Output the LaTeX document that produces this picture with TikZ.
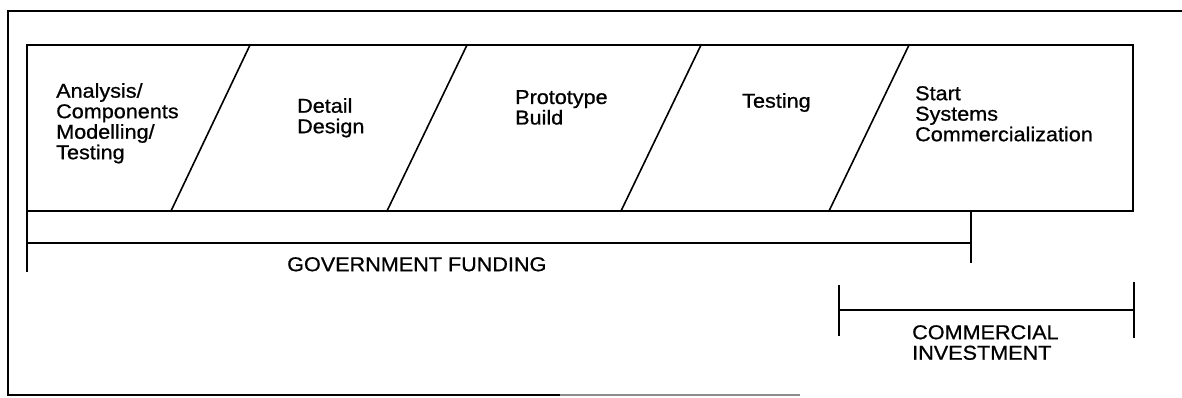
\documentclass[tikz,border=0pt]{standalone}
\usepackage{fontspec}
\setmainfont{Liberation Sans}[FakeStretch=1.08,FakeBold=0.8]
\begin{document}
\begin{tikzpicture}[x=1pt,y=-1pt,
  rule/.style={line width=1.6pt,line cap=rect},
  framerule/.style={line width=1.3pt},
  phase/.style={anchor=north west,inner sep=0pt,align=left,
    font=\fontsize{20}{20.5}\selectfont},
  caption/.style={anchor=north west,inner sep=0pt,align=left,
    font=\fontsize{20}{20.5}\selectfont}]
\useasboundingbox (0,0) rectangle (1182,397);

% outer frame (open on the right)
\coordinate (fTR) at (1182,11);
\coordinate (fTL) at (8,11);
\coordinate (fBL) at (8,395);
\coordinate (fBM) at (560,395);
\coordinate (fBR) at (800,395);
\draw[framerule] (fTR) -- (fTL) -- (fBL) -- (fBM);
\draw[framerule,black!45] (fBM) -- (fBR);

% phase strip
\coordinate (bTL) at (27,45);
\coordinate (bTR) at (1133,45);
\coordinate (bBR) at (1133,211);
\coordinate (bBL) at (27,211);
\draw[rule] (bTL) -- (bTR) -- (bBR) -- (bBL) -- cycle;

% slanted dividers between phases
\foreach \t/\b [count=\i] in {250/171,467/387,701/621,909/829}{
  \coordinate (dT\i) at (\t,45);
  \coordinate (dB\i) at (\b,211);
  \draw[rule] (dT\i) -- (dB\i);
}

% phase labels
\node[phase] (p1) at (56,83) {Analysis/\\Components\\Modelling/\\Testing};
\node[phase] (p2) at (297,98) {Detail\\Design};
\node[phase] (p3) at (515,90) {Prototype\\Build};
\node[phase] (p4) at (742,93) {Testing};
\node[phase] (p5) at (915,86) {Start\\Systems\\Commercialization};

% government funding span
\coordinate (gL) at (27,243);
\coordinate (gLend) at (27,271);
\coordinate (gR) at (971,243);
\coordinate (gRtop) at (971,211);
\coordinate (gRend) at (971,262);
\draw[rule] (bBL) -- (gLend);
\draw[rule] (gL) -- (gR);
\draw[rule] (gRtop) -- (gRend);
\node[caption] (gov) at (287,257) {GOVERNMENT FUNDING};

% commercial investment span
\coordinate (cL) at (839,310);
\coordinate (cR) at (1134,310);
\coordinate (cLt) at (839,286);
\coordinate (cLb) at (839,335);
\coordinate (cRt) at (1134,283);
\coordinate (cRb) at (1134,337);
\draw[rule] (cL) -- (cR);
\draw[rule] (cLt) -- (cLb);
\draw[rule] (cRt) -- (cRb);
\node[caption] (com) at (912,325) {COMMERCIAL\\INVESTMENT};
\end{tikzpicture}
\end{document}
